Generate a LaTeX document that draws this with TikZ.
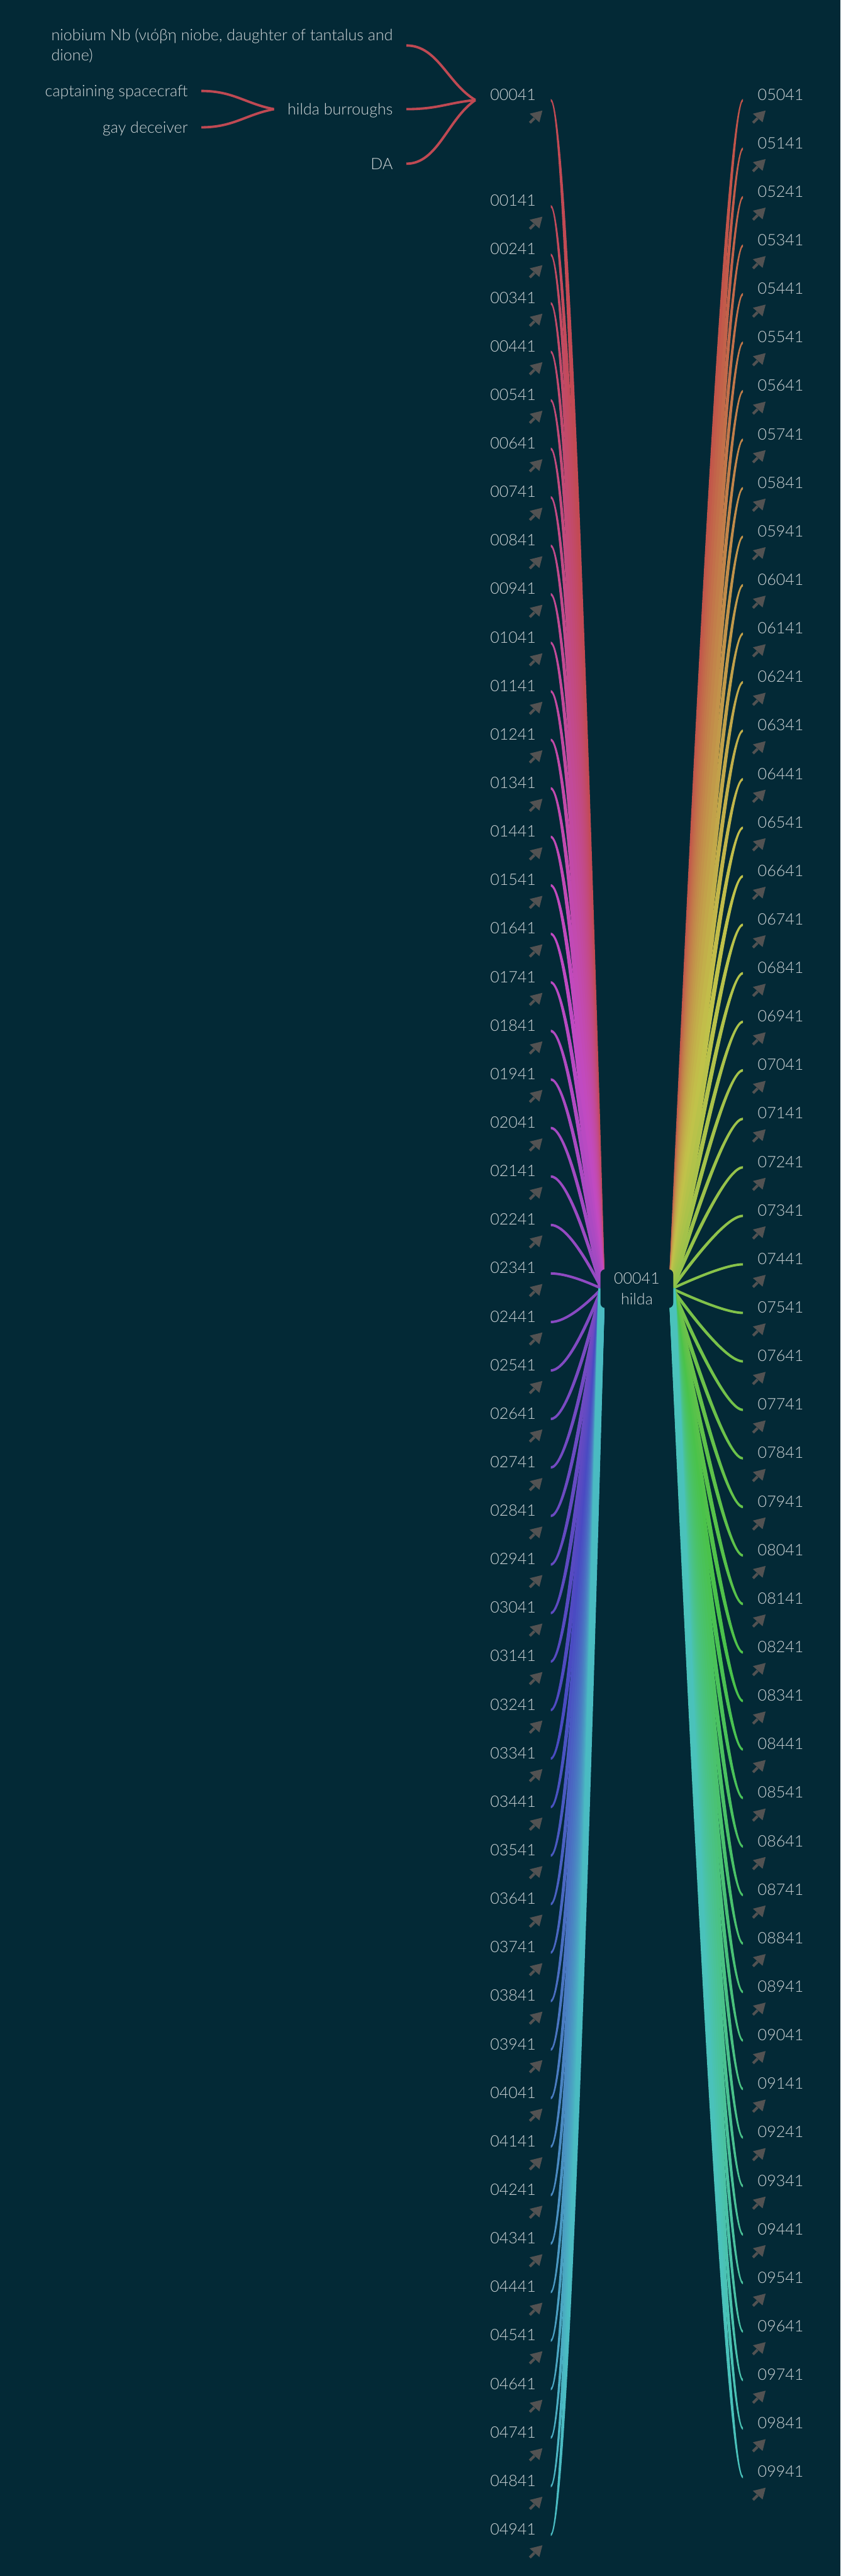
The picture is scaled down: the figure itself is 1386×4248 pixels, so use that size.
\PassOptionsToPackage{rgb}{xcolor}
\documentclass[tikz,border=0pt]{standalone}
\usepackage{fontspec}
\setmainfont{Lato Light}
\usetikzlibrary{calc}
\selectcolormodel{rgb}
\definecolor{bgc}{RGB}{3,41,54}
\definecolor{txc}{RGB}{205,212,214}
\definecolor{icc}{RGB}{82,82,82}
\definecolor{redc}{Hsb}{355,0.62,0.75}
% tapered branch: #1 start name, #2 end name, #3 side sign, #4 x0, #5 y0, #6 x3 (y3 = 2125)
\newcommand{\mmbranch}[6]{%
  \pgfmathsetmacro\mmTx{#6-(#4+30*#3)}%
  \pgfmathsetmacro\mmTy{2125-#5}%
  \pgfmathsetmacro\mmth{atan2(\mmTy,\mmTx)}%
  \pgfmathsetmacro\mmph{atan2(2125-#5,#6-#4)}%
  \pgfmathsetmacro\mmhz{2.0}%
  \pgfmathsetmacro\mmho{2.0+3.5*min(1,abs(\mmTy)/700)}%
  \pgfmathsetmacro\mmhc{\mmhz+(\mmho-\mmhz)/3}%
  \pgfmathsetmacro\mmhd{\mmhz+2*(\mmho-\mmhz)/3}%
  \pgfmathsetmacro\mmkax{(-sin(\mmph))/(1+#3*cos(\mmph))}%
  \pgfmathsetmacro\mmkay{(#3+cos(\mmph))/(1+#3*cos(\mmph))}%
  \pgfmathsetmacro\mmkbx{(-sin(\mmph)-sin(\mmth))/(1+cos(\mmph-\mmth))}%
  \pgfmathsetmacro\mmkby{(cos(\mmph)+cos(\mmth))/(1+cos(\mmph-\mmth))}%
  \pgfmathsetmacro\mmsa{#3*\mmhz}%
  \pgfmathsetmacro\mmAax{20*#3+\mmhc*\mmkax}%
  \pgfmathsetmacro\mmAay{\mmhc*\mmkay}%
  \pgfmathsetmacro\mmBax{20*#3-\mmhc*\mmkax}%
  \pgfmathsetmacro\mmBay{-\mmhc*\mmkay}%
  \pgfmathsetmacro\mmAbx{-2/3*\mmTx+\mmhd*\mmkbx}%
  \pgfmathsetmacro\mmAby{-2/3*\mmTy+\mmhd*\mmkby}%
  \pgfmathsetmacro\mmBbx{-2/3*\mmTx-\mmhd*\mmkbx}%
  \pgfmathsetmacro\mmBby{-2/3*\mmTy-\mmhd*\mmkby}%
  \pgfmathsetmacro\mmAcx{-sin(\mmth)*\mmho}%
  \pgfmathsetmacro\mmAcy{cos(\mmth)*\mmho}%
  \fill[brc] ($(#1)+(0,\mmsa)$) .. controls ($(#1)+(\mmAax,\mmAay)$) and ($(#2)+(\mmAbx,\mmAby)$) .. ($(#2)+(\mmAcx,\mmAcy)$)
     -- ($(#2)-(\mmAcx,\mmAcy)$) .. controls ($(#2)+(\mmBbx,\mmBby)$) and ($(#1)+(\mmBax,\mmBay)$) .. ($(#1)-(0,\mmsa)$) -- cycle;
}
\begin{document}
\begin{tikzpicture}[x=0.5pt,y=-0.5pt,
  lab/.style={text=txc, font=\fontsize{13}{16}\selectfont, inner xsep=12pt, inner ysep=0pt},
  sublab/.style={text=txc, font=\fontsize{13}{16.5}\selectfont, inner xsep=11pt, inner ysep=0pt, text height=12pt, text depth=2.5pt},
  subbr/.style={draw=redc, line width=2pt},
  linkicon/.style={fill=icc},
  linkstem/.style={draw=icc, line width=2.2pt}
]
\fill[bgc] (0,0) rectangle (1386,4248);
\useasboundingbox (0,0) rectangle (1386,4248);

\coordinate (rootL) at (992,2125);
\coordinate (rootR) at (1108,2125);

% ---------- left branches ----------
\foreach \n in {0,...,49}{
  \pgfmathsetmacro\ly{\n==0 ? 155 : 330+(\n-1)*80}
  \pgfmathsetmacro\by{\ly+10}
  \pgfmathsetmacro\hue{355-3.5*\n}
  \definecolor{brc}{Hsb}{\hue,0.62,0.76}
  \ifnum\n<10 \def\lt{00\n41}\else\def\lt{0\n41}\fi
  \node[lab, anchor=base east] (L\n) at (908,\by) {\lt};
  \begin{scope}[shift={(884,\ly+37)}]
    \fill[linkicon] (10.3,-9.7) -- (-10.7,-4.5) -- (5.3,9.7) -- cycle;
    \draw[linkstem] (-3,3) -- (-10.5,10.5);
  \end{scope}
  \mmbranch{L\n.base east}{rootL}{1}{908}{\by}{992}
}

% ---------- right branches ----------
\foreach \k in {0,...,49}{
  \pgfmathsetmacro\ly{155+80*\k}
  \pgfmathsetmacro\by{\ly+10}
  \pgfmathsetmacro\hue{5+3.5*\k}
  \definecolor{brc}{Hsb}{\hue,0.62,0.76}
  \pgfmathtruncatemacro\m{50+\k}
  \node[lab, anchor=base west] (R\k) at (1225,\by) {0\m41};
  \begin{scope}[shift={(1252,\ly+37)}]
    \fill[linkicon] (10.3,-9.7) -- (-10.7,-4.5) -- (5.3,9.7) -- cycle;
    \draw[linkstem] (-3,3) -- (-10.5,10.5);
  \end{scope}
  \mmbranch{R\k.base west}{rootR}{-1}{1225}{\by}{1108}
}

% ---------- sub-branches of 00041 ----------
\node[text=txc, font=\fontsize{13}{16.5}\selectfont, inner xsep=11pt, inner ysep=0pt, align=left, anchor=east] (nb) at (670,75) {niobium Nb (νιόβη niobe, daughter of tantalus and\\dione)};
\node[sublab, anchor=east] (hb) at (670,180) {hilda burroughs};
\node[sublab, anchor=east] (da) at (670,270) {DA};
\node[sublab, anchor=east] (cs) at (332,150) {captaining spacecraft};
\node[sublab, anchor=east] (gd) at (332,210) {gay deceiver};

\draw[subbr] (nb.east) .. controls +(52,0) and +(-46,-27) .. (L0.base west);
\draw[subbr] (hb.east) .. controls +(52,0) and +(-46,4.5) .. (L0.base west);
\draw[subbr] (da.east) .. controls +(52,0) and +(-46,31.5) .. (L0.base west);
\draw[subbr] (cs.east) .. controls +(53,0) and +(-47,-9) .. (hb.west);
\draw[subbr] (gd.east) .. controls +(53,0) and +(-47,9) .. (hb.west);

% ---------- root ----------
\node[text=txc, font=\fontsize{13}{17}\selectfont, fill=bgc, rounded corners=4pt, minimum width=60pt, minimum height=32pt, align=center, inner sep=0pt] (root) at (1050,2125) {00041\\hilda};
\end{tikzpicture}
\end{document}
